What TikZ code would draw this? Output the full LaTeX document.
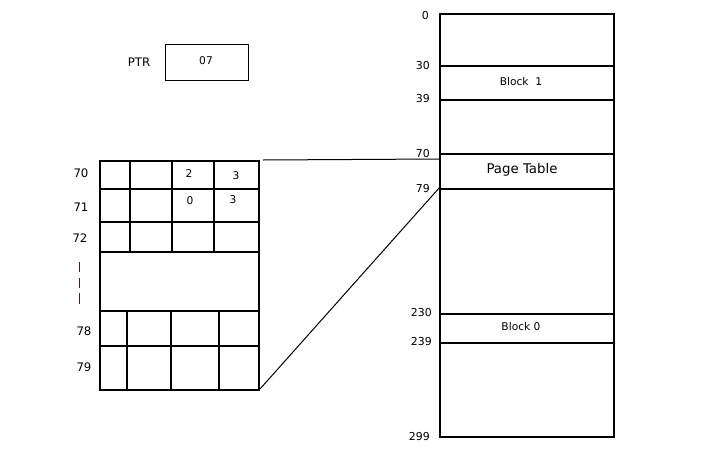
\documentclass[tikz,border=0pt]{standalone}
\usepackage{fontspec}
\setmainfont{DejaVu Sans}
\definecolor{barred}{rgb}{0.35,0.08,0.12}
\begin{document}
\begin{tikzpicture}[x=0.75pt,y=-0.75pt,
  ln/.style={line width=0.8pt,black},
  lbl/.style={font=\fontsize{8.2}{10}\selectfont,inner sep=0pt,anchor=east},
  rowl/.style={font=\fontsize{8.8}{10}\selectfont,inner sep=0pt},
  txt/.style={font=\fontsize{8}{9}\selectfont,inner sep=0pt},
  big/.style={font=\fontsize{10}{11}\selectfont,inner sep=0pt}]
\useasboundingbox[fill=white] (0,0) rectangle (720,450);
% PTR
\node[font=\fontsize{8.8}{10}\selectfont,inner sep=0pt] (ptrlbl) at (139,62) {PTR};
\node[draw,line width=0.8pt,minimum width=83*0.75pt,minimum height=36*0.75pt,inner sep=0pt,anchor=north west] (ptr) at (165,44) {};
\node[txt] (ptrval) at (206,61) {07};
% left table
\node[inner sep=0pt,minimum width=159*0.75pt,minimum height=229*0.75pt,anchor=north west] (tbl) at (100,161) {};
\draw[ln] (100,161) rectangle (259,390);
\foreach \y in {189,222,252,311,346} \draw[ln] (100,\y) -- (259,\y);
\foreach \x in {130,172,214} \draw[ln] (\x,161) -- (\x,252);
\foreach \x in {127,171,219} \draw[ln] (\x,311) -- (\x,390);
\node[txt] (c1) at (189,174) {2};
\node[txt] (c2) at (236,176) {3};
\node[txt] (c3) at (190,201) {0};
\node[txt] (c4) at (233,200) {3};
\node[rowl] (r70) at (81,173) {70};
\node[rowl] (r71) at (81,207) {71};
\node[rowl] (r72) at (80,238) {72};
\node[rowl] (r78) at (84,331) {78};
\node[rowl] (r79) at (84,367) {79};
\draw[barred,line width=1pt] (79.5,262) -- (79.5,272) (79.5,278) -- (79.5,288) (79.5,293) -- (79.5,304);
% right memory column
\draw[ln] (440,14) rectangle (614,437);
\foreach \y in {66,100,154,189,314,343} \draw[ln] (440,\y) -- (614,\y);
\coordinate (tabTR) at (263,160);
\coordinate (tabBR) at (260,389);
\coordinate (memA) at (439,159);
\coordinate (memB) at (440,187);
\draw[line width=0.75pt] (tabTR) -- (memA);
\draw[line width=0.75pt] (tabBR) -- (memB);
\node[txt] (b1) at (521,82) {Block\ \ 1};
\node[big] (pt) at (522,170) {Page Table};
\node[txt] (b0) at (521,327) {Block 0};
\node[lbl] (m0) at (429,16) {0};
\node[lbl] (m30) at (430,66) {30};
\node[lbl] (m39) at (430,99) {39};
\node[lbl] (m70) at (430,154) {70};
\node[lbl] (m79) at (430,189) {79};
\node[lbl] (m230) at (432,313) {230};
\node[lbl] (m239) at (432,342) {239};
\node[lbl] (m299) at (430,437) {299};
\end{tikzpicture}
\end{document}
